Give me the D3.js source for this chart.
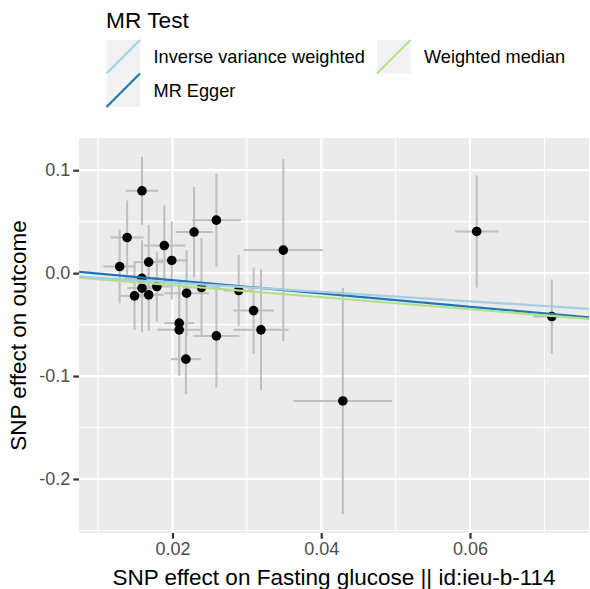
<!DOCTYPE html>
<html>
<head>
<meta charset="utf-8">
<script src="https://cdn.jsdelivr.net/npm/d3@7"></script>
<style>
  body { margin: 0; background: #fff; }
  text { font-family: "Liberation Sans", Arial, sans-serif; }
</style>
</head>
<body>
<svg id="mySvg" width="590" height="589"></svg>
<script>
var svg = d3.select("#mySvg");

// SNP estimates
const snpX  = [0.0129, 0.0139, 0.0159, 0.0168, 0.0189, 0.0199, 0.0229, 0.0259, 0.0349, 0.0159, 0.0159, 0.0149, 0.0168,
               0.0179, 0.0219, 0.0239, 0.0289, 0.0309, 0.0209, 0.0209, 0.0259, 0.0319, 0.0218, 0.0429, 0.0609, 0.0710];
const snpY  = [0.0064, 0.0346, 0.0800, 0.0107, 0.0268, 0.0123, 0.0399, 0.0515, 0.0224, -0.0050, -0.0146, -0.0221, -0.0211,
               -0.0130, -0.0195, -0.0140, -0.0169, -0.0364, -0.0486, -0.0551, -0.0610, -0.0551, -0.0836, -0.1242, 0.0405, -0.0422];
const seX   = [0.0022, 0.0022, 0.0022, 0.0020, 0.0028, 0.0021, 0.0025, 0.0033, 0.0053, 0.0025, 0.0020, 0.0020, 0.0020,
               0.0022, 0.0030, 0.0025, 0.0020, 0.0027, 0.0020, 0.0029, 0.0031, 0.0037, 0.0020, 0.0066, 0.0029, 0.0025];
const seY   = [0.0357, 0.036, 0.033, 0.036, 0.039, 0.038, 0.044, 0.045, 0.0885, 0.037, 0.043, 0.033, 0.035,
               0.034, 0.042, 0.048, 0.0345, 0.042, 0.040, 0.045, 0.050, 0.0587, 0.034, 0.110, 0.0545, 0.036];

// MR fits (legend order) and drawing order
const methods    = ["Inverse variance weighted", "MR Egger", "Weighted median"];
const slopes     = [-0.456, -0.644, -0.585];
const intercepts = [0, 0.006, 0];
const colors     = ["#a6cee3", "#1f78b4", "#b2df8a"];
const drawOrder  = [1, 2, 0];

const xMajor = [0.02, 0.04, 0.06];
const xMinor = [0.01, 0.03, 0.05, 0.07];
const yMajor = [0.1, 0, -0.1, -0.2];
const yMinor = [0.05, -0.05, -0.15, -0.25];

const panelLeft = 79, panelRight = 589, panelTop = 138, panelBottom = 533;

var x = d3.scaleLinear().domain([0.00743, 0.0760]).range([panelLeft, panelRight]);
var y = d3.scaleLinear().domain([-0.2525, 0.1313]).range([panelBottom, panelTop]);

// panel
svg.append("rect")
    .attr("x", panelLeft).attr("y", panelTop)
    .attr("width", panelRight - panelLeft).attr("height", panelBottom - panelTop)
    .attr("fill", "#ebebeb");

var grid = svg.append("g");
xMinor.forEach(function (v) {
    grid.append("line").attr("x1", x(v)).attr("x2", x(v)).attr("y1", panelTop).attr("y2", panelBottom)
        .attr("stroke", "#fff").attr("stroke-width", 1.1);
});
yMinor.forEach(function (v) {
    grid.append("line").attr("x1", panelLeft).attr("x2", panelRight).attr("y1", y(v)).attr("y2", y(v))
        .attr("stroke", "#fff").attr("stroke-width", 1.1);
});
xMajor.forEach(function (v) {
    grid.append("line").attr("x1", x(v)).attr("x2", x(v)).attr("y1", panelTop).attr("y2", panelBottom)
        .attr("stroke", "#fff").attr("stroke-width", 2.2);
});
yMajor.forEach(function (v) {
    grid.append("line").attr("x1", panelLeft).attr("x2", panelRight).attr("y1", y(v)).attr("y2", y(v))
        .attr("stroke", "#fff").attr("stroke-width", 2.2);
});

// error bars
var bars = svg.append("g").attr("stroke", "#bebebe").attr("stroke-width", 2);
snpX.forEach(function (d, i) {
    bars.append("line")
        .attr("x1", x(d)).attr("x2", x(d))
        .attr("y1", y(snpY[i] - seY[i])).attr("y2", y(snpY[i] + seY[i]));
});
snpX.forEach(function (d, i) {
    bars.append("line")
        .attr("x1", x(d - seX[i])).attr("x2", x(d + seX[i]))
        .attr("y1", y(snpY[i])).attr("y2", y(snpY[i]));
});

// points
svg.append("g").selectAll("circle")
    .data(snpX)
    .enter().append("circle")
    .attr("cx", function (d) { return x(d); })
    .attr("cy", function (d, i) { return y(snpY[i]); })
    .attr("r", 4.8)
    .attr("fill", "#000");

// fitted lines
var xd = x.domain();
var lines = svg.append("g");
drawOrder.forEach(function (k) {
    lines.append("line")
        .attr("x1", x(xd[0])).attr("y1", y(intercepts[k] + slopes[k] * xd[0]))
        .attr("x2", x(xd[1])).attr("y2", y(intercepts[k] + slopes[k] * xd[1]))
        .attr("stroke", colors[k]).attr("stroke-width", 2.2);
});

// axes
var xAxis = svg.append("g")
    .attr("transform", "translate(0," + panelBottom + ")")
    .call(d3.axisBottom(x).tickValues(xMajor).tickSize(5.7).tickPadding(4).tickFormat(d3.format(".2f")));
var yAxis = svg.append("g")
    .attr("transform", "translate(" + panelLeft + ",0)")
    .call(d3.axisLeft(y).tickValues(yMajor).tickSize(5.7).tickPadding(3)
        .tickFormat(function (d) { return d === 0 ? "0.0" : d3.format(".1f")(d).replace("−", "-"); }));
[xAxis, yAxis].forEach(function (a) {
    a.select(".domain").remove();
    a.selectAll(".tick line").attr("stroke", "#333333").attr("stroke-width", 2.2);
    a.selectAll(".tick text").attr("fill", "#4d4d4d").style("font-size", "18px")
        .style("font-family", "'Liberation Sans', Arial, sans-serif");
});

// axis titles
svg.append("text")
    .attr("x", (panelLeft + panelRight) / 2).attr("y", 585)
    .attr("text-anchor", "middle")
    .style("font-size", "22.5px").attr("fill", "#000")
    .text("SNP effect on Fasting glucose || id:ieu-b-114");
svg.append("text")
    .attr("transform", "translate(26," + (panelTop + panelBottom) / 2 + ") rotate(-90)")
    .attr("text-anchor", "middle")
    .style("font-size", "22.5px").attr("fill", "#000")
    .text("SNP effect on outcome");

// legend
var legend = svg.append("g");
legend.append("text").attr("x", 106).attr("y", 28)
    .style("font-size", "22.7px").attr("fill", "#000").text("MR Test");

const keySize = 33.5;
const keyX = [106.5, 106.5, 377];
const keyY = [40, 40 + keySize, 40];
methods.forEach(function (m, i) {
    legend.append("rect")
        .attr("x", keyX[i]).attr("y", keyY[i])
        .attr("width", keySize).attr("height", keySize)
        .attr("fill", "#f2f2f2");
    legend.append("line")
        .attr("x1", keyX[i]).attr("y1", keyY[i] + keySize)
        .attr("x2", keyX[i] + keySize).attr("y2", keyY[i])
        .attr("stroke", colors[i]).attr("stroke-width", 2.2);
    legend.append("text")
        .attr("x", keyX[i] + 47).attr("y", keyY[i] + keySize / 2 + 6.5)
        .style("font-size", "18.2px").attr("fill", "#000")
        .text(m);
});
</script>
</body>
</html>
